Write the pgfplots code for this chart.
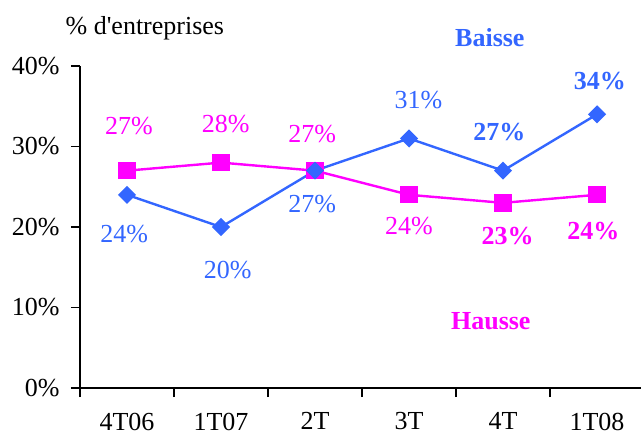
\documentclass[border=0pt]{standalone}
\usepackage{fontspec}
\setmainfont{Liberation Serif}
\newfontfamily\rawserif{Liberation Serif}
\usepackage{pgfplots}
\pgfplotsset{compat=1.18}

\definecolor{baisse}{RGB}{51,102,255}
\definecolor{hausse}{RGB}{255,0,255}

\newcommand\lblfont{\fontsize{19.5}{22}\selectfont}
\newcommand\lblbold{\fontsize{19.5}{22}\selectfont\bfseries}

\begin{document}
\begin{tikzpicture}[font=\lblfont]
\begin{axis}[
    at={(60pt,36.75pt)}, anchor=south west,
    scale only axis,
    width=420.75pt, height=241.5pt,
    xmin=-0.5, xmax=5.468,
    ymin=0, ymax=40,
    axis x line=bottom,
    axis y line=left,
    axis line style={-, line width=1.3pt},
    clip=false,
    tick align=outside,
    major tick length=6.75pt,
    tick style={draw=black, line width=1.3pt},
    xtick={-0.5,0.5,1.5,2.5,3.5,4.5},
    xticklabels={},
    extra x ticks={0,1,2,3,4,5},
    extra x tick labels={4T06,1T07,2T,3T,4T,1T08},
    extra x tick style={major tick length=0pt, tick style={draw=none},
        xticklabel style={yshift=-15pt}},
    ytick={0,10,20,30,40},
    yticklabel={\pgfmathprintnumber{\tick}\%},
    /pgf/number format/assume math mode=true,
    yticklabel style={xshift=-5pt},
]
\addplot[color=hausse, line width=1.8pt, mark=square*, mark size=5.6pt,
    mark options={solid}] coordinates {
    (0,27) (1,28) (2,27) (3,24) (4,23) (5,24)
};
\addplot[color=baisse, line width=1.8pt, mark=square*, mark size=3.9pt,
    mark options={solid, rotate=45}] coordinates {
    (0,24) (1,20) (2,27) (3,31) (4,27) (5,34)
};

% data labels, Hausse
\node[text=hausse] at (axis cs:0.02,32.5) {27\%};
\node[text=hausse] at (axis cs:1.05,32.8) {28\%};
\node[text=hausse] at (axis cs:1.97,31.6) {27\%};
\node[text=hausse] at (axis cs:3.0,20.1) {24\%};
\node[text=hausse, font=\lblbold] at (axis cs:4.05,18.9) {23\%};
\node[text=hausse, font=\lblbold] at (axis cs:4.96,19.5) {24\%};
% data labels, Baisse
\node[text=baisse] at (axis cs:-0.03,19.1) {24\%};
\node[text=baisse] at (axis cs:1.07,14.7) {20\%};
\node[text=baisse] at (axis cs:1.97,22.9) {27\%};
\node[text=baisse] at (axis cs:3.10,35.8) {31\%};
\node[text=baisse, font=\lblbold] at (axis cs:3.96,31.8) {27\%};
\node[text=baisse, font=\lblbold] at (axis cs:5.03,38.1) {34\%};

% series names
\node[text=baisse, font=\lblbold] at (axis cs:3.86,43.5) {Baisse};
\node[text=hausse, font=\lblbold] at (axis cs:3.87,8.3) {Hausse};

% y axis title
\node at (axis cs:0.19,44.7) {\rawserif\% d'entreprises};
\end{axis}
% y tick marks (axis runs from 36.75pt to 278.25pt, 60.375pt per 10%)
\foreach \k in {0,...,4}
  \draw[black, line width=1.3pt] (60pt,36.75pt+\k*60.375pt) -- (53.25pt,36.75pt+\k*60.375pt);
\pgfresetboundingbox
\useasboundingbox (0,0) rectangle (480.75pt,327.75pt);
\end{tikzpicture}
\end{document}
